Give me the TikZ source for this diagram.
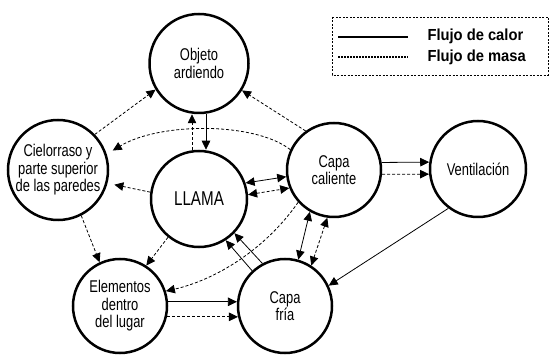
\documentclass[tikz,border=0pt]{standalone}
\usepackage{fontspec}
\setmainfont[FakeStretch=0.76]{Liberation Sans}
\newfontfamily\legendfont[FakeStretch=0.92]{Liberation Sans}
\usetikzlibrary{arrows.meta}
\begin{document}
\begin{tikzpicture}[x=1pt,y=-1pt,>={Triangle[length=9pt,width=8.5pt]},
		zone/.style={draw,circle,line width=2.5pt,inner sep=0pt,align=center,font=\fontsize{17}{17.5}\selectfont},
		heat/.style={line width=0.8pt,->},
		mass/.style={heat,dash pattern=on 3pt off 2pt}]
		\useasboundingbox (0.,0.) rectangle (549.,355.);
		
		\node[zone,minimum size=99pt] (objeto) at (199.,63.5) {Objeto\\ardiendo};
		\node[zone,minimum size=100pt] (cielo) at (58.,170.) {Cielorraso y\\parte superior\\de las paredes};
		\node[zone,minimum size=96pt,font=\fontsize{20}{22}\selectfont] (llama) at (199.,199.) {LLAMA};
		\node[zone,minimum size=94pt] (caliente) at (334.,170.) {Capa\\caliente};
		\node[zone,minimum size=96pt] (vent) at (478.,169.) {Ventilación};
		\node[zone,minimum size=94pt] (elementos) at (120.,306.) {Elementos\\dentro\\del lugar};
		\node[zone,minimum size=94pt] (fria) at (285.,306.) {Capa\\fría};
		
		\draw [mass] (cielo.44)-- (objeto.211);
		\draw [mass] (caliente.126)-- (objeto.328);
		\draw [mass] ([xshift=-7pt]llama.north)-- ([xshift=-7pt]objeto.south);
		\draw [heat] ([xshift=7pt]objeto.south)-- ([xshift=7pt]llama.north);
		\draw [mass,shorten >=7pt] (caliente.155) .. controls (255.,122.) and (160.,122.) .. (cielo.18);
		\draw [mass,shorten >=7pt] (llama.172)-- (cielo.-15);
		\draw [heat,<->] (llama.19)-- (caliente.188);
		\draw [mass,<->] (llama.5)-- (caliente.202);
		\draw [heat] (fria.133)-- (llama.-57);
		\draw [heat] (fria.118)-- (llama.-44);
		\draw [mass] (caliente.222) .. controls (265.,250.) and (215.,280.) .. (elementos.18);
		\draw [mass] (cielo.-63)-- (elementos.115);
		\draw [mass] (llama.231)-- (elementos.57);
		\draw [heat] (elementos.5)-- (fria.175);
		\draw [mass] (elementos.-13)-- (fria.193);
		\draw [heat,<->] (caliente.240)-- (fria.74);
		\draw [mass,<->] (caliente.262)-- (fria.57);
		\draw [heat] (caliente.9)-- (vent.172);
		\draw [mass] (caliente.-5)-- (vent.186);
		\draw [heat] (vent.233)-- (fria.25);
		
		\draw [line width=0.6pt,dash pattern=on 2pt off 1.5pt] (332.,17.) rectangle (548.,75.);
		\draw [line width=2.pt] (338.,37.)-- (408.,37.);
		\draw [line width=2.pt,dash pattern=on 1.5pt off 1.5pt] (338.,57.)-- (408.,57.);
		\node[anchor=west,font=\legendfont\bfseries\fontsize{16}{18}\selectfont] (calor) at (424.,36.) {Flujo de calor};
		\node[anchor=west,font=\legendfont\bfseries\fontsize{16}{18}\selectfont] (masa) at (424.,57.) {Flujo de masa};
	\end{tikzpicture}
\end{document}
